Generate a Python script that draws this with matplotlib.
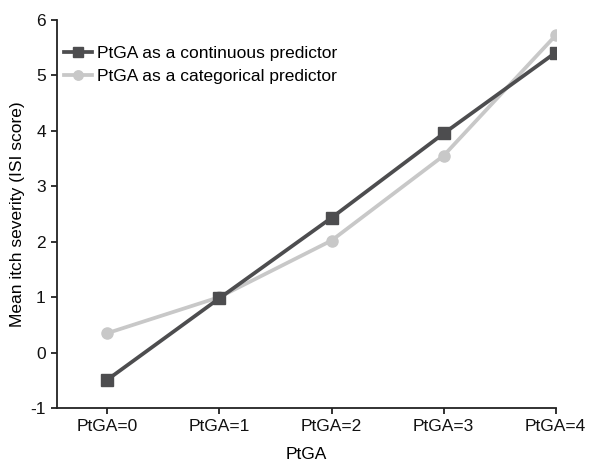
import numpy as np
import matplotlib.pyplot as plt

plt.rcParams['font.family'] = ['Liberation Sans', 'DejaVu Sans']

categories = ['PtGA=0', 'PtGA=1', 'PtGA=2', 'PtGA=3', 'PtGA=4']
continuous = [-0.49, 0.98, 2.43, 3.95, 5.41]
categorical = [0.35, 1.0, 2.02, 3.55, 5.72]

x = np.arange(len(categories))

fig = plt.figure(figsize=(6.06, 4.61), dpi=100)
ax = fig.add_axes([0.094, 0.115, 0.823, 0.842])

ax.plot(x, categorical, color='#c8c8c8', lw=2.7, marker='o', ms=8,
        label='PtGA as a categorical predictor', zorder=2)
ax.plot(x, continuous, color='#4d4d4f', lw=2.7, marker='s', ms=9,
        label='PtGA as a continuous predictor', zorder=3)

ax.set_xlim(-0.45, 4)
ax.set_ylim(-1, 6)
ax.set_xticks(x)
ax.set_xticklabels(categories)
ax.set_yticks(range(-1, 7))
ax.set_yticklabels([str(v) for v in range(-1, 7)])
ax.set_xlabel('PtGA', fontsize=12.5, labelpad=9)
ax.set_ylabel('Mean itch severity (ISI score)', fontsize=12.5, labelpad=4)
ax.tick_params(labelsize=12.5, length=4, width=1.3, color='#222222', labelcolor='#111111', pad=4)
for s in ['top', 'right']:
    ax.spines[s].set_visible(False)
for s in ['left', 'bottom']:
    ax.spines[s].set_linewidth(1.3)
    ax.spines[s].set_color('#222222')

h, l = ax.get_legend_handles_labels()
ax.legend(h[::-1], l[::-1], loc='upper left', bbox_to_anchor=(-0.01, 0.965),
          frameon=False, fontsize=12.5, handlelength=1.6, handletextpad=0.3,
          labelspacing=0.45, borderaxespad=0.3, markerscale=0.85)

fig.savefig('out.png', dpi=100)
